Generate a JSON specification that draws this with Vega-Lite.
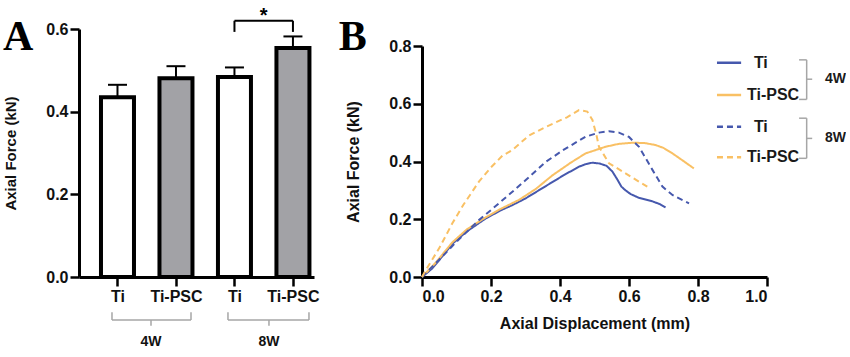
{
  "$schema": "https://vega.github.io/schema/vega-lite/v6.json",
  "background": "white",
  "padding": {"left": 3, "top": 5, "right": 0, "bottom": 0},
  "bounds": "flush",
  "spacing": 108,
  "datasets": {
    "bars": [
      {"slot": 1, "week": "4W", "material": "Ti", "force": 0.435, "upper": 0.465},
      {"slot": 2, "week": "4W", "material": "Ti-PSC", "force": 0.481, "upper": 0.51},
      {"slot": 3, "week": "8W", "material": "Ti", "force": 0.484, "upper": 0.507},
      {"slot": 4, "week": "8W", "material": "Ti-PSC", "force": 0.554, "upper": 0.582}
    ],
    "sig": [
      {"x": 3, "x2": 4, "y": 0.62, "y2": 0.62},
      {"x": 3, "x2": 3, "y": 0.593, "y2": 0.62},
      {"x": 4, "x2": 4, "y": 0.593, "y2": 0.62}
    ],
    "groupBrackets": [
      {"x": 0.906, "x2": 2.257, "y": -0.104, "y2": -0.104},
      {"x": 0.906, "x2": 0.906, "y": -0.085, "y2": -0.104},
      {"x": 2.257, "x2": 2.257, "y": -0.085, "y2": -0.104},
      {"x": 1.573, "x2": 1.573, "y": -0.104, "y2": -0.118},
      {"x": 2.889, "x2": 4.274, "y": -0.104, "y2": -0.104},
      {"x": 2.889, "x2": 2.889, "y": -0.085, "y2": -0.104},
      {"x": 4.274, "x2": 4.274, "y": -0.085, "y2": -0.104},
      {"x": 3.59, "x2": 3.59, "y": -0.104, "y2": -0.118}
    ],
    "groupLabels": [
      {"x": 1.573, "y": -0.157, "text": "4W"},
      {"x": 3.59, "y": -0.157, "text": "8W"}
    ],
    "curves": [
      {"week": "4W", "material": "Ti", "disp": 0, "force": 0},
      {"week": "4W", "material": "Ti", "disp": 0.03, "force": 0.03},
      {"week": "4W", "material": "Ti", "disp": 0.06, "force": 0.073},
      {"week": "4W", "material": "Ti", "disp": 0.088, "force": 0.115},
      {"week": "4W", "material": "Ti", "disp": 0.13, "force": 0.158},
      {"week": "4W", "material": "Ti", "disp": 0.185, "force": 0.203},
      {"week": "4W", "material": "Ti", "disp": 0.23, "force": 0.232},
      {"week": "4W", "material": "Ti", "disp": 0.262, "force": 0.249},
      {"week": "4W", "material": "Ti", "disp": 0.3, "force": 0.272},
      {"week": "4W", "material": "Ti", "disp": 0.359, "force": 0.315},
      {"week": "4W", "material": "Ti", "disp": 0.41, "force": 0.352},
      {"week": "4W", "material": "Ti", "disp": 0.455, "force": 0.382},
      {"week": "4W", "material": "Ti", "disp": 0.475, "force": 0.391},
      {"week": "4W", "material": "Ti", "disp": 0.494, "force": 0.396},
      {"week": "4W", "material": "Ti", "disp": 0.515, "force": 0.393},
      {"week": "4W", "material": "Ti", "disp": 0.535, "force": 0.385},
      {"week": "4W", "material": "Ti", "disp": 0.552, "force": 0.365},
      {"week": "4W", "material": "Ti", "disp": 0.565, "force": 0.34},
      {"week": "4W", "material": "Ti", "disp": 0.578, "force": 0.313},
      {"week": "4W", "material": "Ti", "disp": 0.59, "force": 0.3},
      {"week": "4W", "material": "Ti", "disp": 0.605, "force": 0.287},
      {"week": "4W", "material": "Ti", "disp": 0.629, "force": 0.274},
      {"week": "4W", "material": "Ti", "disp": 0.668, "force": 0.262},
      {"week": "4W", "material": "Ti", "disp": 0.69, "force": 0.252},
      {"week": "4W", "material": "Ti", "disp": 0.706, "force": 0.241},
      {"week": "4W", "material": "Ti-PSC", "disp": 0, "force": 0},
      {"week": "4W", "material": "Ti-PSC", "disp": 0.04, "force": 0.05},
      {"week": "4W", "material": "Ti-PSC", "disp": 0.088, "force": 0.12},
      {"week": "4W", "material": "Ti-PSC", "disp": 0.13, "force": 0.165},
      {"week": "4W", "material": "Ti-PSC", "disp": 0.185, "force": 0.207},
      {"week": "4W", "material": "Ti-PSC", "disp": 0.23, "force": 0.237},
      {"week": "4W", "material": "Ti-PSC", "disp": 0.281, "force": 0.267},
      {"week": "4W", "material": "Ti-PSC", "disp": 0.33, "force": 0.305},
      {"week": "4W", "material": "Ti-PSC", "disp": 0.378, "force": 0.352},
      {"week": "4W", "material": "Ti-PSC", "disp": 0.43, "force": 0.395},
      {"week": "4W", "material": "Ti-PSC", "disp": 0.474, "force": 0.428},
      {"week": "4W", "material": "Ti-PSC", "disp": 0.532, "force": 0.451},
      {"week": "4W", "material": "Ti-PSC", "disp": 0.57, "force": 0.461},
      {"week": "4W", "material": "Ti-PSC", "disp": 0.61, "force": 0.465},
      {"week": "4W", "material": "Ti-PSC", "disp": 0.645, "force": 0.464},
      {"week": "4W", "material": "Ti-PSC", "disp": 0.677, "force": 0.457},
      {"week": "4W", "material": "Ti-PSC", "disp": 0.7, "force": 0.447},
      {"week": "4W", "material": "Ti-PSC", "disp": 0.726, "force": 0.428},
      {"week": "4W", "material": "Ti-PSC", "disp": 0.755, "force": 0.404},
      {"week": "4W", "material": "Ti-PSC", "disp": 0.788, "force": 0.376},
      {"week": "8W", "material": "Ti", "disp": 0, "force": 0},
      {"week": "8W", "material": "Ti", "disp": 0.049, "force": 0.059},
      {"week": "8W", "material": "Ti", "disp": 0.1, "force": 0.122},
      {"week": "8W", "material": "Ti", "disp": 0.165, "force": 0.197},
      {"week": "8W", "material": "Ti", "disp": 0.2, "force": 0.232},
      {"week": "8W", "material": "Ti", "disp": 0.262, "force": 0.295},
      {"week": "8W", "material": "Ti", "disp": 0.3, "force": 0.335},
      {"week": "8W", "material": "Ti", "disp": 0.359, "force": 0.399},
      {"week": "8W", "material": "Ti", "disp": 0.41, "force": 0.44},
      {"week": "8W", "material": "Ti", "disp": 0.474, "force": 0.486},
      {"week": "8W", "material": "Ti", "disp": 0.513, "force": 0.5},
      {"week": "8W", "material": "Ti", "disp": 0.542, "force": 0.505},
      {"week": "8W", "material": "Ti", "disp": 0.571, "force": 0.5},
      {"week": "8W", "material": "Ti", "disp": 0.6, "force": 0.485},
      {"week": "8W", "material": "Ti", "disp": 0.629, "force": 0.451},
      {"week": "8W", "material": "Ti", "disp": 0.668, "force": 0.371},
      {"week": "8W", "material": "Ti", "disp": 0.697, "force": 0.313},
      {"week": "8W", "material": "Ti", "disp": 0.726, "force": 0.284},
      {"week": "8W", "material": "Ti", "disp": 0.774, "force": 0.255},
      {"week": "8W", "material": "Ti-PSC", "disp": 0, "force": 0},
      {"week": "8W", "material": "Ti-PSC", "disp": 0.011, "force": 0.024},
      {"week": "8W", "material": "Ti-PSC", "disp": 0.05, "force": 0.1},
      {"week": "8W", "material": "Ti-PSC", "disp": 0.088, "force": 0.186},
      {"week": "8W", "material": "Ti-PSC", "disp": 0.12, "force": 0.25},
      {"week": "8W", "material": "Ti-PSC", "disp": 0.165, "force": 0.33},
      {"week": "8W", "material": "Ti-PSC", "disp": 0.2, "force": 0.38},
      {"week": "8W", "material": "Ti-PSC", "disp": 0.233, "force": 0.42},
      {"week": "8W", "material": "Ti-PSC", "disp": 0.262, "force": 0.44},
      {"week": "8W", "material": "Ti-PSC", "disp": 0.31, "force": 0.49},
      {"week": "8W", "material": "Ti-PSC", "disp": 0.359, "force": 0.52},
      {"week": "8W", "material": "Ti-PSC", "disp": 0.42, "force": 0.553},
      {"week": "8W", "material": "Ti-PSC", "disp": 0.455, "force": 0.578},
      {"week": "8W", "material": "Ti-PSC", "disp": 0.479, "force": 0.573},
      {"week": "8W", "material": "Ti-PSC", "disp": 0.494, "force": 0.544},
      {"week": "8W", "material": "Ti-PSC", "disp": 0.505, "force": 0.495},
      {"week": "8W", "material": "Ti-PSC", "disp": 0.513, "force": 0.451},
      {"week": "8W", "material": "Ti-PSC", "disp": 0.542, "force": 0.394},
      {"week": "8W", "material": "Ti-PSC", "disp": 0.59, "force": 0.359},
      {"week": "8W", "material": "Ti-PSC", "disp": 0.629, "force": 0.33},
      {"week": "8W", "material": "Ti-PSC", "disp": 0.653, "force": 0.313}
    ],
    "legendItems": [
      {"week": "4W", "material": "Ti", "label": "Ti", "x": 0.855, "x2": 0.925, "tx": 0.962, "y": 0.742},
      {"week": "4W", "material": "Ti-PSC", "label": "Ti-PSC", "x": 0.855, "x2": 0.925, "tx": 0.942, "y": 0.63},
      {"week": "8W", "material": "Ti", "label": "Ti", "x": 0.855, "x2": 0.925, "tx": 0.962, "y": 0.52},
      {"week": "8W", "material": "Ti-PSC", "label": "Ti-PSC", "x": 0.855, "x2": 0.925, "tx": 0.942, "y": 0.415}
    ],
    "legendBrackets": [
      {"x": 1.115, "x2": 1.115, "y": 0.752, "y2": 0.615},
      {"x": 1.093, "x2": 1.115, "y": 0.752, "y2": 0.752},
      {"x": 1.093, "x2": 1.115, "y": 0.615, "y2": 0.615},
      {"x": 1.115, "x2": 1.131, "y": 0.685, "y2": 0.685},
      {"x": 1.115, "x2": 1.115, "y": 0.55, "y2": 0.411},
      {"x": 1.093, "x2": 1.115, "y": 0.55, "y2": 0.55},
      {"x": 1.093, "x2": 1.115, "y": 0.411, "y2": 0.411},
      {"x": 1.115, "x2": 1.131, "y": 0.48, "y2": 0.48}
    ],
    "legendWeeks": [
      {"x": 1.168, "y": 0.685, "text": "4W"},
      {"x": 1.168, "y": 0.48, "text": "8W"}
    ]
  },
  "hconcat": [
    {
      "width": 235,
      "height": 248,
      "layer": [
        {
          "data": {"name": "bars"},
          "mark": {"type": "bar", "size": 33, "stroke": "#000", "strokeWidth": 4},
          "encoding": {
            "x": {"field": "slot", "type": "quantitative",
              "scale": {"domain": [0.342, 4.36], "nice": false, "zero": false, "padding": 0},
              "axis": {"values": [1, 2, 3, 4], "labelExpr": "datum.value % 2 == 1 ? 'Ti' : 'Ti-PSC'", "title": null, "labelPadding": 2}},
            "y": {"field": "force", "type": "quantitative",
              "scale": {"domain": [0, 0.6], "nice": false},
              "axis": {"values": [0, 0.2, 0.4, 0.6], "format": ".1f", "title": "Axial Force (kN)", "titleFontSize": 15, "titlePadding": 27, "labelPadding": 2}},
            "fill": {"field": "material", "type": "nominal",
              "scale": {"domain": ["Ti", "Ti-PSC"], "range": ["#ffffff", "#a2a2a6"]}, "legend": null}
          }
        },
        {
          "data": {"name": "bars"},
          "mark": {"type": "rule", "stroke": "#000", "strokeWidth": 2},
          "encoding": {
            "x": {"field": "slot", "type": "quantitative"},
            "y": {"field": "force", "type": "quantitative"},
            "y2": {"field": "upper"}
          }
        },
        {
          "data": {"name": "bars"},
          "mark": {"type": "tick", "orient": "horizontal", "size": 19, "thickness": 2, "color": "#000", "opacity": 1},
          "encoding": {
            "x": {"field": "slot", "type": "quantitative"},
            "y": {"field": "upper", "type": "quantitative"}
          }
        },
        {
          "data": {"name": "sig"},
          "mark": {"type": "rule", "stroke": "#000", "strokeWidth": 2},
          "encoding": {
            "x": {"field": "x", "type": "quantitative"},
            "x2": {"field": "x2"},
            "y": {"field": "y", "type": "quantitative"},
            "y2": {"field": "y2"}
          }
        },
        {
          "data": {"values": [{"x": 3.5, "y": 0.617, "text": "*"}]},
          "mark": {"type": "text", "font": "Liberation Sans", "fontWeight": "bold", "fontSize": 20, "baseline": "alphabetic", "align": "center", "color": "#000"},
          "encoding": {
            "x": {"field": "x", "type": "quantitative"},
            "y": {"field": "y", "type": "quantitative"},
            "text": {"field": "text"}
          }
        },
        {
          "data": {"name": "groupBrackets"},
          "mark": {"type": "rule", "stroke": "#a6a6a6", "strokeWidth": 1.5},
          "encoding": {
            "x": {"field": "x", "type": "quantitative"},
            "x2": {"field": "x2"},
            "y": {"field": "y", "type": "quantitative"},
            "y2": {"field": "y2"}
          }
        },
        {
          "data": {"name": "groupLabels"},
          "mark": {"type": "text", "font": "Liberation Sans", "fontWeight": "bold", "fontSize": 14, "baseline": "middle", "align": "center", "color": "#111"},
          "encoding": {
            "x": {"field": "x", "type": "quantitative"},
            "y": {"field": "y", "type": "quantitative"},
            "text": {"field": "text"}
          }
        },
        {
          "data": {"values": [{"x": -0.957, "y": 0.549, "text": "A"}]},
          "mark": {"type": "text", "font": "Liberation Serif", "fontWeight": "bold", "fontSize": 42, "baseline": "alphabetic", "align": "left", "color": "#000"},
          "encoding": {
            "x": {"field": "x", "type": "quantitative"},
            "y": {"field": "y", "type": "quantitative"},
            "text": {"field": "text"}
          }
        }
      ]
    },
    {
      "width": 345,
      "height": 248,
      "layer": [
        {
          "data": {"name": "curves"},
          "mark": {"type": "line", "strokeWidth": 2},
          "encoding": {
            "x": {"field": "disp", "type": "quantitative",
              "scale": {"domain": [0, 1], "nice": false, "padding": 0},
              "axis": {"values": [0, 0.2, 0.4, 0.6, 0.8, 1.0], "format": ".1f", "title": "Axial Displacement (mm)", "titleFontSize": 16, "titlePadding": 11, "labelPadding": 2}},
            "y": {"field": "force", "type": "quantitative",
              "scale": {"domain": [0, 0.8], "range": [248, 17], "nice": false},
              "axis": {"values": [0, 0.2, 0.4, 0.6, 0.8], "format": ".1f", "title": "Axial Force (kN)", "titleFontSize": 16, "titlePadding": 27, "labelPadding": 2}},
            "color": {"field": "material", "type": "nominal",
              "scale": {"domain": ["Ti", "Ti-PSC"], "range": ["#4658ad", "#f9c064"]}, "legend": null},
            "strokeDash": {"field": "week", "type": "nominal",
              "scale": {"domain": ["4W", "8W"], "range": [[1, 0], [6, 4]]}, "legend": null}
          }
        },
        {
          "data": {"name": "legendItems"},
          "mark": {"type": "rule", "strokeWidth": 2.5},
          "encoding": {
            "x": {"field": "x", "type": "quantitative"},
            "x2": {"field": "x2"},
            "y": {"field": "y", "type": "quantitative"},
            "color": {"field": "material", "type": "nominal", "legend": null},
            "strokeDash": {"field": "week", "type": "nominal", "legend": null}
          }
        },
        {
          "data": {"name": "legendItems"},
          "mark": {"type": "text", "font": "Liberation Sans", "fontWeight": "bold", "fontSize": 16, "baseline": "middle", "align": "left", "color": "#1a1a1a"},
          "encoding": {
            "x": {"field": "tx", "type": "quantitative"},
            "y": {"field": "y", "type": "quantitative"},
            "text": {"field": "label"}
          }
        },
        {
          "data": {"name": "legendBrackets"},
          "mark": {"type": "rule", "stroke": "#a6a6a6", "strokeWidth": 1.5},
          "encoding": {
            "x": {"field": "x", "type": "quantitative"},
            "x2": {"field": "x2"},
            "y": {"field": "y", "type": "quantitative"},
            "y2": {"field": "y2"}
          }
        },
        {
          "data": {"name": "legendWeeks"},
          "mark": {"type": "text", "font": "Liberation Sans", "fontWeight": "bold", "fontSize": 14, "baseline": "middle", "align": "left", "color": "#1a1a1a"},
          "encoding": {
            "x": {"field": "x", "type": "quantitative"},
            "y": {"field": "y", "type": "quantitative"},
            "text": {"field": "text"}
          }
        },
        {
          "data": {"values": [{"x": -0.241, "y": 0.786, "text": "B"}]},
          "mark": {"type": "text", "font": "Liberation Serif", "fontWeight": "bold", "fontSize": 42, "baseline": "alphabetic", "align": "left", "color": "#000"},
          "encoding": {
            "x": {"field": "x", "type": "quantitative"},
            "y": {"field": "y", "type": "quantitative"},
            "text": {"field": "text"}
          }
        }
      ]
    }
  ],
  "config": {
    "view": {"stroke": null},
    "axis": {
      "grid": false,
      "domainColor": "#000",
      "domainWidth": 3,
      "tickColor": "#000",
      "tickWidth": 2.5,
      "tickSize": 9,
      "labelFont": "Liberation Sans",
      "labelFontWeight": "bold",
      "labelFontSize": 16,
      "labelColor": "#111",
      "titleFont": "Liberation Sans",
      "titleFontWeight": "bold",
      "titleColor": "#111"
    }
  }
}
